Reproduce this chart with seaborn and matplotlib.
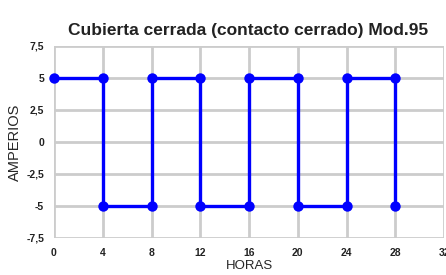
import matplotlib
matplotlib.use("Agg")
import matplotlib.pyplot as plt
import seaborn as sns
import pandas as pd

horas = [0, 4, 4, 8, 8, 12, 12, 16, 16, 20, 20, 24, 24, 28, 28]
amperios = [5, 5, -5, -5, 5, 5, -5, -5, 5, 5, -5, -5, 5, 5, -5]
x_ticks = [0, 4, 8, 12, 16, 20, 24, 28, 32]
y_ticks = [-7.5, -5, -2.5, 0, 2.5, 5, 7.5]
y_labels = ["-7,5", "-5", "-2,5", "0", "2,5", "5", "7,5"]

df = pd.DataFrame({"HORAS": horas, "AMPERIOS": amperios})

sns.set_style("white")
plt.rcParams['font.family'] = ['Liberation Sans Narrow', 'Liberation Sans', 'DejaVu Sans']

fig = plt.figure(figsize=(4.46, 2.75), dpi=100)
ax = fig.add_axes([0.121, 0.135, 0.875, 0.698])

sns.lineplot(data=df, x="HORAS", y="AMPERIOS", sort=False, estimator=None,
             color="#0000ff", linewidth=2.4, marker="o", markersize=7.5,
             markeredgewidth=0, clip_on=False, ax=ax, zorder=5)

ax.set_xlim(0, 32)
ax.set_ylim(-7.5, 7.5)
ax.set_xticks(x_ticks)
ax.set_yticks(y_ticks)
ax.set_yticklabels(y_labels)
ax.grid(True, color="#cccccc", linewidth=2.0)
ax.set_axisbelow(True)
for s in ax.spines.values():
    s.set_visible(False)
ax.tick_params(length=0, labelsize=7.5, pad=7)
for lab in ax.get_xticklabels() + ax.get_yticklabels():
    lab.set_fontweight("bold")
    lab.set_color("#222222")

ax.set_xlabel("HORAS", fontsize=9.5, family="Liberation Sans", labelpad=2)
ax.set_ylabel("AMPERIOS", fontsize=10.5, family="Liberation Sans", labelpad=3)
fig.text(0.557, 0.888, "Cubierta cerrada (contacto cerrado) Mod.95",
         ha="center", va="center", fontsize=12.5, fontweight="bold", color="#222222")

fig.savefig("out.png", dpi=100)
